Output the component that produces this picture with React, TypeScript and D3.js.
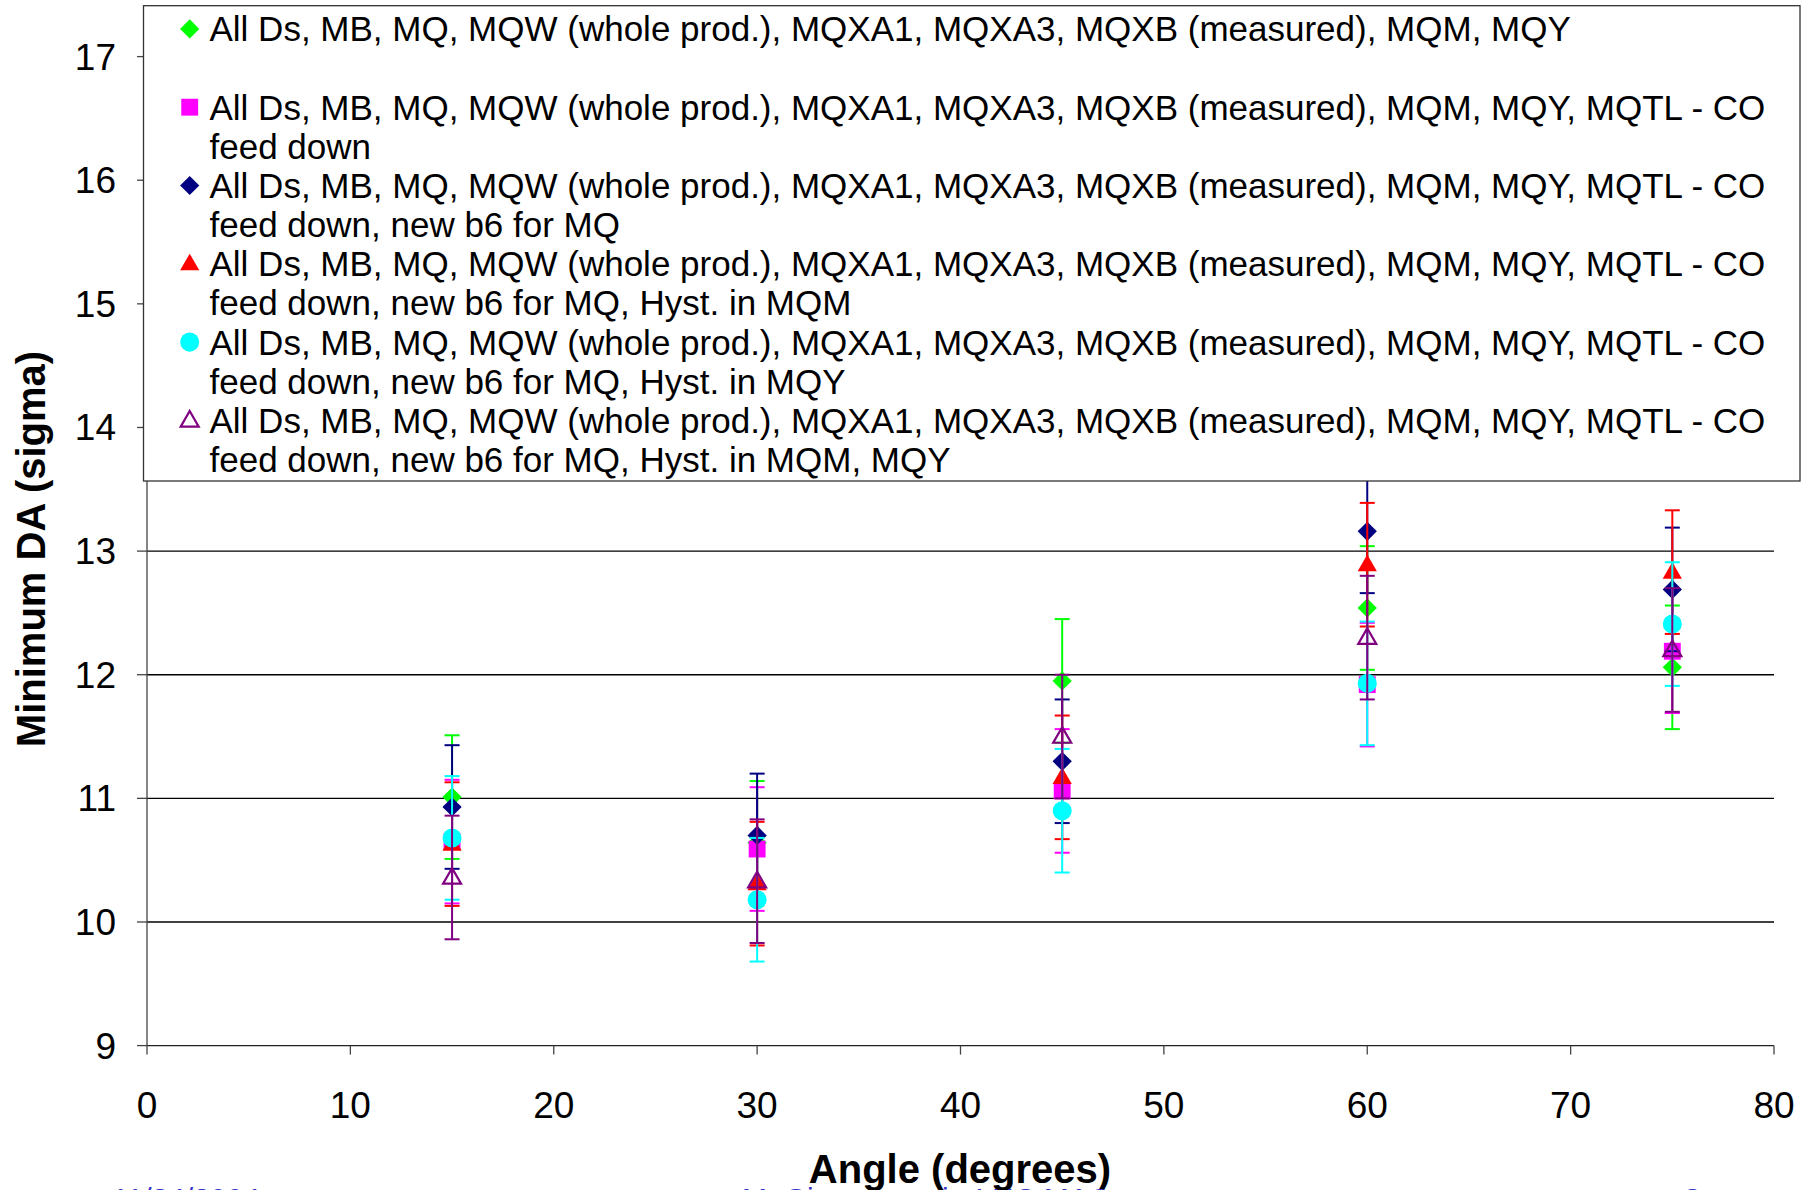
import React from "react";
import * as d3 from "d3";

// ---------- data ----------
const angles = [15, 30, 45, 60, 75];

const legendHead =
  "All Ds, MB, MQ, MQW (whole prod.), MQXA1, MQXA3, MQXB (measured), MQM, MQY";
const legendHeadCO =
  "All Ds, MB, MQ, MQW (whole prod.), MQXA1, MQXA3, MQXB (measured), MQM, MQY, MQTL - CO";

const seriesLabels: string[][] = [
  [legendHead],
  [legendHeadCO, "feed down"],
  [legendHeadCO, "feed down, new b6 for MQ"],
  [legendHeadCO, "feed down, new b6 for MQ, Hyst. in MQM"],
  [legendHeadCO, "feed down, new b6 for MQ, Hyst. in MQY"],
  [legendHeadCO, "feed down, new b6 for MQ, Hyst. in MQM, MQY"],
];

const valsGreen = [11.01, 10.64, 11.95, 12.54, 12.06];
const valsMagenta = [10.65, 10.59, 11.06, 11.92, 12.19];
const valsNavy = [10.93, 10.7, 11.3, 13.16, 12.69];
const valsRed = [10.63, 10.31, 11.17, 12.89, 12.83];
const valsCyan = [10.68, 10.18, 10.9, 11.93, 12.41];
const valsPurple = [10.36, 10.33, 11.5, 12.3, 12.2];

const errGreen = [0.5, 0.5, 0.5, 0.5, 0.5];
const errMagenta = [0.5, 0.5, 0.5, 0.5, 0.5];
const errNavy = [0.5, 0.5, 0.5, 0.5, 0.5];
const errRed = [0.5, 0.5, 0.5, 0.5, 0.5];
const errCyan = [0.5, 0.5, 0.5, 0.5, 0.5];
const errPurple = [0.5, 0.5, 0.5, 0.5, 0.5];

const xTicks = [0, 10, 20, 30, 40, 50, 60, 70, 80];
const yTicks = [9, 10, 11, 12, 13, 14, 15, 16, 17];

const footerTexts = ["11/24/2004", "M. Giovannozzi - LHC MAC", "8"];

type Shape = "diamond" | "square" | "triangle" | "circle" | "triangleOpen";
const series = [
  { vals: valsGreen, errs: errGreen, color: "#00ff00", shape: "diamond" as Shape },
  { vals: valsMagenta, errs: errMagenta, color: "#ff00ff", shape: "square" as Shape },
  { vals: valsNavy, errs: errNavy, color: "#000080", shape: "diamond" as Shape },
  { vals: valsRed, errs: errRed, color: "#ff0000", shape: "triangle" as Shape },
  { vals: valsCyan, errs: errCyan, color: "#00ffff", shape: "circle" as Shape },
  { vals: valsPurple, errs: errPurple, color: "#800080", shape: "triangleOpen" as Shape },
];

// ---------- layout ----------
const W = 1812;
const H = 1190;
const FONT = "'Liberation Sans', Arial, sans-serif";

const x = d3.scaleLinear().domain([0, 80]).range([147, 1774]);
const y = d3.scaleLinear().domain([9, 17]).range([1045.6, 56.6]);

function Marker({ shape, color, cx, cy }: { shape: Shape; color: string; cx: number; cy: number }) {
  if (shape === "diamond") {
    const p = d3.symbol().type(d3.symbolSquare).size(185)()!;
    return <path d={p} transform={`translate(${cx},${cy}) rotate(45)`} fill={color} />;
  }
  if (shape === "square") {
    const p = d3.symbol().type(d3.symbolSquare).size(285)()!;
    return <path d={p} transform={`translate(${cx},${cy})`} fill={color} />;
  }
  if (shape === "circle") {
    const p = d3.symbol().type(d3.symbolCircle).size(285)()!;
    return <path d={p} transform={`translate(${cx},${cy})`} fill={color} />;
  }
  const p = d3.symbol().type(d3.symbolTriangle).size(shape === "triangle" ? 160 : 140)()!;
  if (shape === "triangle") {
    return <path d={p} transform={`translate(${cx},${cy + 1})`} fill={color} />;
  }
  return (
    <path
      d={p}
      transform={`translate(${cx},${cy + 1})`}
      fill="none"
      stroke={color}
      strokeWidth={2.2}
      strokeLinejoin="miter"
    />
  );
}

export default function App() {
  const legendX0 = 143.5;
  const legendX1 = 1800;
  const legendY0 = 5.7;
  const legendY1 = 481;
  const entryY = (i: number) => 28.9 + i * 78.3;

  return (
    <svg
      width={W}
      height={H}
      style={{ position: "absolute", left: 0, top: 0, background: "#fff" }}
      fontFamily={FONT}
    >
      <rect x={0} y={0} width={W} height={H} fill="#fff" />

      {/* gridlines */}
      {yTicks
        .filter((t) => t > 9)
        .map((t) => (
          <line key={"g" + t} x1={x(0)} x2={x(80)} y1={y(t)} y2={y(t)} stroke="#000" strokeWidth={1.3} />
        ))}

      {/* axes */}
      <line x1={x(0)} x2={x(0)} y1={y(17)} y2={y(9)} stroke="#444" strokeWidth={1.3} />
      <line x1={x(0)} x2={x(80)} y1={y(9)} y2={y(9)} stroke="#222" strokeWidth={1.3} />
      {yTicks.map((t) => (
        <g key={"yt" + t}>
          <line x1={x(0) - 10} x2={x(0)} y1={y(t)} y2={y(t)} stroke="#444" strokeWidth={1.3} />
          <text x={116} y={y(t) + 13} fontSize={37} textAnchor="end" fill="#000">
            {t}
          </text>
        </g>
      ))}
      {xTicks.map((t) => (
        <g key={"xt" + t}>
          <line x1={x(t)} x2={x(t)} y1={y(9)} y2={y(9) + 9} stroke="#444" strokeWidth={1.3} />
          <text x={x(t)} y={1118} fontSize={37} textAnchor="middle" fill="#000">
            {t}
          </text>
        </g>
      ))}

      {/* series: error bars + markers */}
      {series.map((s, si) => (
        <g key={"s" + si}>
          {angles.map((a, i) => {
            const cx = x(a);
            const hi = y(s.vals[i] + s.errs[i]);
            const lo = y(s.vals[i] - s.errs[i]);
            return (
              <g key={"e" + i} stroke={s.color} strokeWidth={2}>
                <line x1={cx} x2={cx} y1={hi} y2={lo} />
                <line x1={cx - 7.5} x2={cx + 7.5} y1={hi} y2={hi} />
                <line x1={cx - 7.5} x2={cx + 7.5} y1={lo} y2={lo} />
              </g>
            );
          })}
          {angles.map((a, i) => (
            <Marker key={"m" + i} shape={s.shape} color={s.color} cx={x(a)} cy={y(s.vals[i])} />
          ))}
        </g>
      ))}

      {/* legend */}
      <rect
        x={legendX0}
        y={legendY0}
        width={legendX1 - legendX0}
        height={legendY1 - legendY0}
        fill="#fff"
        stroke="#333"
        strokeWidth={1.3}
      />
      {series.map((s, i) => (
        <g key={"lg" + i}>
          <Marker shape={s.shape} color={s.color} cx={189.7} cy={entryY(i)} />
          {seriesLabels[i].map((line, li) => (
            <text key={li} x={209.5} y={entryY(i) + li * 39 + 12.5} fontSize={35} fill="#000">
              {line}
            </text>
          ))}
        </g>
      ))}

      {/* axis titles */}
      <text x={960} y={1183} fontSize={40} fontWeight="bold" textAnchor="middle" fill="#000">
        Angle (degrees)
      </text>
      <text
        transform={`translate(45,549) rotate(-90)`}
        fontSize={40}
        fontWeight="bold"
        textAnchor="middle"
        fill="#000"
      >
        Minimum DA (sigma)
      </text>

      {/* footer (cut off at the bottom edge) */}
      <text x={112} y={1209} fontSize={30} fill="#3333cc">
        {footerTexts[0]}
      </text>
      <text x={742} y={1209} fontSize={30} fill="#3333cc">
        {footerTexts[1]}
      </text>
      <text x={1684} y={1209} fontSize={30} fill="#3333cc">
        {footerTexts[2]}
      </text>
    </svg>
  );
}
